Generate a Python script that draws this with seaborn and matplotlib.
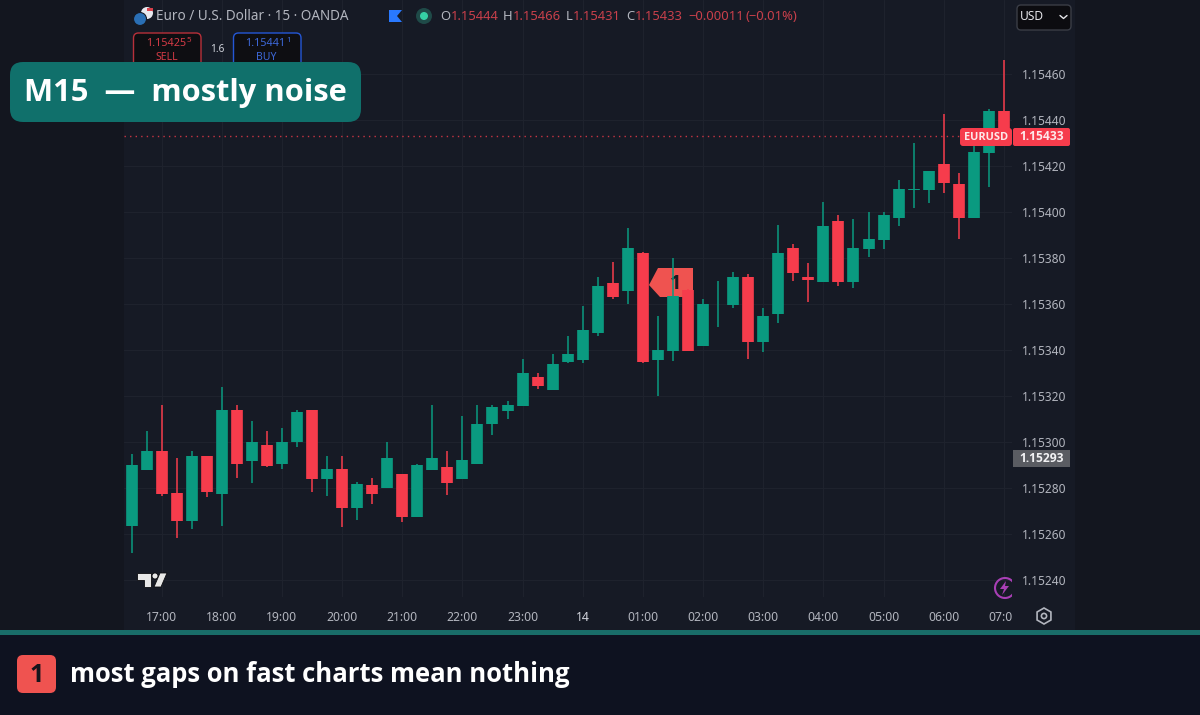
"""EUR/USD M15 candles, dark trading-terminal look, seaborn lineplot for the marks."""
import matplotlib
matplotlib.use("Agg")
import matplotlib.pyplot as plt
import numpy as np
import pandas as pd
import seaborn as sns
from matplotlib.patches import Circle, FancyBboxPatch, Polygon, Rectangle, RegularPolygon
from matplotlib.transforms import Bbox

open_px = [
    1.152635, 1.152878, 1.152961, 1.152780, 1.152655, 1.152939, 1.152775, 1.153138,
    1.152918, 1.152988, 1.152904, 1.152999, 1.153138, 1.152838, 1.152881, 1.152714,
    1.152812, 1.152799, 1.152860, 1.152674, 1.152877, 1.152890, 1.152838, 1.152904,
    1.153077, 1.153135, 1.153157, 1.153282, 1.153228, 1.153347, 1.153355, 1.153475,
    1.153693, 1.153658, 1.153821, 1.153357, 1.153396, 1.153661, 1.153418, 1.153594,
    1.153594, 1.153718, 1.153435, 1.153555, 1.153842, 1.153718, 1.153697, 1.153961,
    1.153697, 1.153838, 1.153878, 1.153975, 1.154094, 1.154094, 1.154209, 1.154121,
    1.153975, 1.154258, 1.154440,
]
high_px = [
    1.152948, 1.153049, 1.153161, 1.152932, 1.152962, 1.152939, 1.153241, 1.153161,
    1.153090, 1.153049, 1.153060, 1.153139, 1.153139, 1.152938, 1.152938, 1.152826,
    1.152842, 1.153000, 1.152860, 1.152904, 1.153160, 1.152961, 1.153113, 1.153160,
    1.153160, 1.153180, 1.153360, 1.153302, 1.153383, 1.153461, 1.153592, 1.153719,
    1.153782, 1.153929, 1.153828, 1.153549, 1.153802, 1.153664, 1.153620, 1.153700,
    1.153738, 1.153730, 1.153581, 1.153942, 1.153861, 1.153780, 1.154044, 1.153988,
    1.153970, 1.153999, 1.153999, 1.154138, 1.154302, 1.154180, 1.154425, 1.154168,
    1.154292, 1.154447, 1.154660,
]
low_px = [
    1.152519, 1.152878, 1.152765, 1.152583, 1.152622, 1.152762, 1.152635, 1.152842,
    1.152820, 1.152890, 1.152883, 1.152980, 1.152782, 1.152764, 1.152629, 1.152662,
    1.152730, 1.152799, 1.152651, 1.152674, 1.152877, 1.152770, 1.152838, 1.152904,
    1.153032, 1.153099, 1.153157, 1.153232, 1.153228, 1.153342, 1.153342, 1.153462,
    1.153620, 1.153599, 1.153342, 1.153200, 1.153352, 1.153396, 1.153418, 1.153502,
    1.153584, 1.153360, 1.153391, 1.153519, 1.153700, 1.153610, 1.153697, 1.153678,
    1.153671, 1.153803, 1.153839, 1.153941, 1.154019, 1.154040, 1.154082, 1.153881,
    1.153975, 1.154110, 1.154310,
]
close_px = [
    1.152899, 1.152961, 1.152775, 1.152655, 1.152939, 1.152784, 1.153138, 1.152904,
    1.153002, 1.152894, 1.153002, 1.153130, 1.152838, 1.152881, 1.152714, 1.152819,
    1.152775, 1.152930, 1.152674, 1.152899, 1.152930, 1.152823, 1.152921, 1.153080,
    1.153152, 1.153160, 1.153302, 1.153244, 1.153340, 1.153382, 1.153487, 1.153678,
    1.153632, 1.153842, 1.153347, 1.153399, 1.153636, 1.153396, 1.153599, 1.153597,
    1.153718, 1.153435, 1.153549, 1.153820, 1.153736, 1.153706, 1.153939, 1.153697,
    1.153842, 1.153881, 1.153988, 1.154099, 1.154099, 1.154180, 1.154126, 1.153975,
    1.154262, 1.154440, 1.154330,
]

price_ticks = [1.1524, 1.1526, 1.1528, 1.1530, 1.1532, 1.1534, 1.1536, 1.1538,
               1.1540, 1.1542, 1.1544, 1.1546]
hour_ticks = [2, 6, 10, 14, 18, 22, 26, 30, 34, 38, 42, 46, 50, 54, 58]
hour_labels = ["17:00", "18:00", "19:00", "20:00", "21:00", "22:00", "23:00", "14",
               "01:00", "02:00", "03:00", "04:00", "05:00", "06:00", "07:00"]
last_close = 1.15433
prev_close = 1.15293

GREEN = "#0a9a80"
RED = "#f63c4c"
TEAL = "#10706b"
CORAL = "#ef5350"
PANEL = "#161a25"
OUTER = "#13161f"
STRIP = "#0e1220"
MUTED = "#b2b5be"
BOLD_FAMILY = "Open Sans"

sns.set_theme(style="dark", rc={
    "axes.facecolor": PANEL,
    "figure.facecolor": OUTER,
    "grid.color": "#1e222d",
    "grid.linewidth": 0.8,
})
plt.rcParams["font.family"] = ["Noto Sans", "DejaVu Sans"]

candles = pd.DataFrame({"open": open_px, "high": high_px, "low": low_px, "close": close_px})
candles["idx"] = np.arange(len(candles))
candles["side"] = np.where(candles["close"] >= candles["open"], "up", "down")
wicks = candles.melt(id_vars=["idx", "side"], value_vars=["high", "low"], value_name="price")
bodies = candles.melt(id_vars=["idx", "side"], value_vars=["open", "close"], value_name="price")

fig = plt.figure(figsize=(12, 7.15), dpi=100)
W, H = 1200, 715


def px_axes(zorder):
    a = fig.add_axes([0, 0, 1, 1], zorder=zorder)
    a.set_xlim(0, W)
    a.set_ylim(H, 0)
    a.axis("off")
    return a


def box(a, x0, y0, x1, y1, radius, **kw):
    a.add_patch(FancyBboxPatch((x0, y0), x1 - x0, y1 - y0,
                               boxstyle=f"round,pad=0,rounding_size={radius}", **kw))


def label(a, x, y, s, size_px, color, ha="left", weight="normal"):
    kw = {"family": BOLD_FAMILY} if weight == "bold" else {}
    return a.text(x, y, s, fontsize=size_px * 0.72, color=color, ha=ha, va="center",
                  fontweight=weight, **kw)


# ── Backdrop, and the gap callout that sits behind the candles ────────
back = px_axes(0)
back.add_patch(Rectangle((124, 0), 951, 632, color=PANEL, lw=0))
back.add_patch(Rectangle((0, 632), W, H - 632, color=STRIP, lw=0))
back.add_patch(Polygon([(649, 285), (658, 268), (693, 268), (693, 297), (660, 297)],
                       color=CORAL, lw=0))
label(back, 676, 284, "1", 20, "#1a1a22", ha="center", weight="bold")

# ── Candles ───────────────────────────────────────────────────────────
ax = fig.add_axes([124 / W, 1 - 597 / H, (1012 - 124) / W, 597 / H], zorder=1)
ax.patch.set_alpha(0)
palette = {"up": GREEN, "down": RED}
sns.lineplot(data=wicks, x="idx", y="price", units="idx", hue="side", palette=palette,
             estimator=None, legend=False, linewidth=1.1, solid_capstyle="butt", ax=ax)
sns.lineplot(data=bodies, x="idx", y="price", units="idx", hue="side", palette=palette,
             estimator=None, legend=False, linewidth=8.4, solid_capstyle="butt", ax=ax)
ax.axhline(last_close, color=RED, lw=1, ls=(0, (1, 3)), alpha=0.8)

ax.set_xlim(-0.5, 58.54)
ax.set_ylim(1.152326, 1.154922)
ax.set_xlabel("")
ax.set_ylabel("")
ax.yaxis.tick_right()
ax.set_yticks(price_ticks)
ax.set_yticklabels([f"{p:.5f}" for p in price_ticks])
ax.set_xticks(hour_ticks)
ax.set_xticklabels(hour_labels)
ax.tick_params(axis="y", length=0, pad=7, labelsize=8.6, labelcolor=MUTED)
ax.tick_params(axis="x", length=0, pad=10, labelsize=8.8, labelcolor=MUTED)
ax.grid(True)
sns.despine(ax=ax, left=True, bottom=True, right=True, top=True)
# last time label runs off the pane in the original
ax.get_xticklabels()[-1].set_clip_box(Bbox([[0, 0], [1012, H]]))
ax.get_xticklabels()[-1].set_clip_on(True)
ax.get_xticklabels()[7].set_color("#d1d4dc")

# ── Chrome on top ─────────────────────────────────────────────────────
top = px_axes(2)

# symbol line
top.add_patch(Circle((147, 13), 6, color="#e8e8ee", lw=0))
top.add_patch(Rectangle((147, 8), 5.5, 3, color="#d8404a", lw=0))
top.add_patch(Circle((140, 19), 6.5, color="#2a6fb5", ec=PANEL, lw=0.8))
label(top, 156, 17, "Euro / U.S. Dollar · 15 · OANDA", 13.5, MUTED)
top.add_patch(Polygon([(389, 10), (402, 10), (397, 16), (402, 22), (389, 22)],
                      color="#2979ff", lw=0))
top.add_patch(Circle((424, 16), 8, color="#1f4a48", lw=0))
top.add_patch(Circle((424, 16), 4, color="#35d0a5", lw=0))

ohlc_red = "#c9404b"
for x, s, c in [(440.5, "O", MUTED), (450.5, "1.15444", ohlc_red),
                (503, "H", MUTED), (512.5, "1.15466", ohlc_red),
                (565.5, "L", MUTED), (573, "1.15431", ohlc_red),
                (626, "C", MUTED), (635, "1.15433", ohlc_red),
                (688, "−0.00011", ohlc_red), (746, "(−0.01%)", ohlc_red)]:
    label(top, x, 16.5, s, 13, c)

# sell / buy boxes
box(top, 133.5, 33, 201, 68, 5, fc="#0e0e12", ec="#b8303a", lw=1)
box(top, 233.5, 33, 301, 68, 5, fc="#0e0e12", ec="#2457d6", lw=1)
label(top, 146, 43, "1.15425", 10.8, "#d23a45")
label(top, 187, 40.5, "5", 8, "#d23a45")
label(top, 167, 57, "SELL", 10.5, "#d23a45", ha="center")
label(top, 245, 43, "1.15441", 10.8, "#3d68d8")
label(top, 286, 40.5, "1", 8, "#3d68d8")
label(top, 266, 57, "BUY", 10.5, "#3d68d8", ha="center")
label(top, 217, 50, "1.6", 10, "#d1d4dc", ha="center")

# title badge
box(top, 10, 62, 361, 122, 13, fc=TEAL, ec="none")
label(top, 24, 93, "M15  —  mostly noise", 30.9, "white", weight="bold")

# currency picker
box(top, 1017, 5, 1071, 30, 4, fc="#0c0c10", ec="#3a3d46", lw=1)
label(top, 1020, 17, "USD", 12, "#e6e6ea")
top.plot([1060, 1063.5, 1067], [15.5, 18.5, 15.5], color="#e6e6ea", lw=1)

# price tags
box(top, 960, 128, 1012, 146, 3, fc=RED, ec="none")
label(top, 986, 137, "EURUSD", 11, "#fde8ea", ha="center", weight="bold")
box(top, 1013, 128, 1070, 146, 2, fc=RED, ec="none")
label(top, 1042, 137, "1.15433", 12, "#fde8ea", ha="center", weight="bold")
top.add_patch(Rectangle((1013, 450), 57, 17, color="#5a5c62", lw=0))
label(top, 1041.5, 458.5, f"{prev_close:.5f}", 12, "#f2f2f4", ha="center", weight="bold")

# tradingview mark
mark = dict(color="#e8e8e8", ec="#0c0c10", lw=0.6)
top.add_patch(Polygon([(137, 573), (151, 573), (151, 587), (144, 587), (144, 580), (137, 580)], **mark))
top.add_patch(Circle((155, 576), 3, **mark))
top.add_patch(Polygon([(160, 573), (167, 573), (161, 587), (154, 587)], **mark))

# bolt badge, cut by the pane edge
ring = Circle((1005, 588), 10, fc="none", ec="#a83fb5", lw=1.5)
top.add_patch(ring)
ring.set_clip_box(Bbox([[0, 0], [1012, H]]))
top.add_patch(Polygon([(1006, 581), (1000, 589), (1004, 589), (1002, 595), (1009, 586), (1005, 586)],
                      color="#a83fb5", lw=0))

# settings gear
top.add_patch(RegularPolygon((1044, 616), 6, radius=8, fc="none", ec=MUTED, lw=1.2))
top.add_patch(Circle((1044, 616), 2.6, fc="none", ec=MUTED, lw=1.2))

# footer
top.add_patch(Rectangle((0, 630), W, 4.5, color="#196d69", lw=0))
box(top, 17, 655, 56, 693, 6, fc=CORAL, ec="none")
label(top, 36.5, 676, "1", 25, "#15151c", ha="center", weight="bold")
label(top, 70, 674, "most gaps on fast charts mean nothing", 25.6, "white", weight="bold")

fig.savefig("out.png", dpi=100, facecolor=fig.get_facecolor())
plt.close(fig)
